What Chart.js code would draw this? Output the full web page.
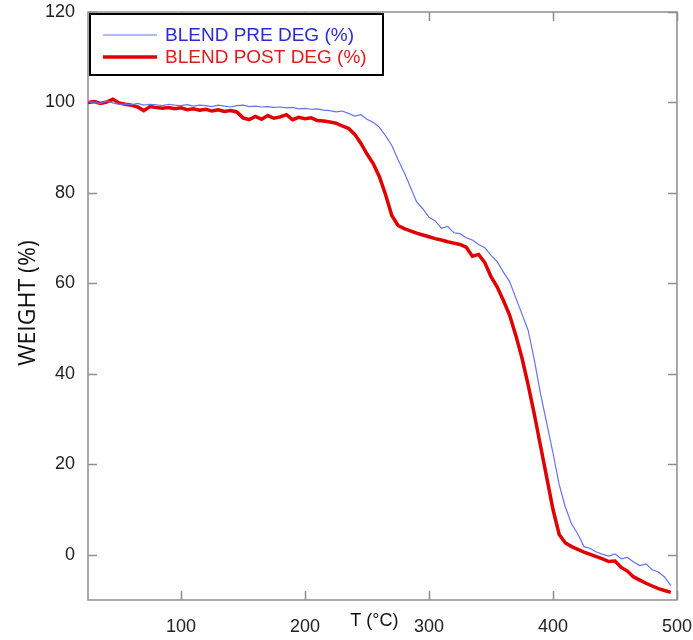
<!DOCTYPE html>
<html>
<head>
<meta charset="utf-8">
<script src="https://cdn.jsdelivr.net/npm/chart.js@4/dist/chart.umd.min.js"></script>
<style>
  html, body { margin: 0; padding: 0; background: #fff; }
  #wrap { width: 693px; height: 640px; }
</style>
</head>
<body>
<div id="wrap"><canvas id="tga"></canvas></div>
<script>
// temperature (°C)
const temps = [25, 30, 35, 40, 45, 50, 55, 60, 65, 70, 75, 80, 85, 90, 95,
  100, 105, 110, 115, 120, 125, 130, 135, 140, 145, 150, 155, 160, 165, 170, 175,
  180, 185, 190, 195, 200, 205, 210, 215, 220, 225, 230, 235, 240, 245, 250, 255,
  260, 265, 270, 275, 280, 285, 290, 295, 300, 305, 310, 315, 320, 325, 330, 335,
  340, 345, 350, 355, 360, 365, 370, 375, 380, 385, 390, 395, 400, 405, 410, 415,
  420, 425, 430, 435, 440, 445, 450, 455, 460, 465, 470, 475, 480, 485, 490, 495];

// weight (%) before degradation
const preDeg = [100.2, 100.0, 99.8, 100.3, 99.9, 99.6, 99.7, 99.5, 99.8, 99.4, 99.6, 99.5, 99.3, 99.6, 99.4,
  99.3, 99.5, 99.2, 99.4, 99.3, 99.1, 99.4, 99.2, 99.0, 99.3, 99.4, 99.1, 99.2, 99.0, 99.1, 98.9,
  99.0, 98.8, 98.9, 98.6, 98.7, 98.5, 98.6, 98.3, 98.2, 97.9, 98.1, 97.6, 97.0, 97.3, 96.3, 95.6,
  94.5, 92.6, 90.5, 87.4, 84.5, 81.3, 78.0, 76.5, 74.6, 73.8, 72.2, 72.6, 71.2, 71.0, 70.1, 69.6,
  68.6, 67.9, 66.2, 64.8, 62.5, 60.4, 56.8, 53.2, 49.6, 43.0, 35.5, 29.0, 22.5, 15.5, 10.5, 6.8,
  4.6, 1.8, 1.4, 0.6, 0.1, -0.3, 0.2, -0.9, -0.6, -1.6, -2.4, -2.0, -3.3, -3.8, -4.9, -6.8];

// weight (%) after degradation
const postDeg = [100.0, 100.2, 99.8, 100.1, 100.7, 99.9, 99.6, 99.4, 99.0, 98.2, 99.1, 98.9, 98.7, 98.9, 98.6,
  98.8, 98.4, 98.6, 98.3, 98.5, 98.1, 98.4, 98.0, 98.2, 97.9, 96.6, 96.2, 96.9, 96.3, 97.1, 96.5,
  96.8, 97.3, 96.2, 96.7, 96.4, 96.6, 96.0, 95.9, 95.7, 95.4, 94.8, 94.3, 93.0, 91.0, 88.6, 86.5,
  83.6, 79.6, 75.0, 72.8, 72.1, 71.6, 71.1, 70.7, 70.3, 69.9, 69.6, 69.2, 68.9, 68.6, 68.0, 66.0,
  66.4, 64.6, 61.5, 59.2, 56.2, 53.0, 48.5, 43.5, 37.5, 31.0, 24.0, 17.0, 10.0, 4.5, 2.6, 1.8,
  1.2, 0.6, 0.1, -0.4, -0.9, -1.5, -1.4, -2.8, -3.6, -4.9, -5.6, -6.3, -6.9, -7.5, -7.9, -8.3];

const xTicks = [100, 200, 300, 400, 500];
const yTicks = [0, 20, 40, 60, 80, 100, 120];

const FONT = '"Liberation Sans", Arial, sans-serif';

const toPoints = (ys) => temps.map((t, i) => ({ x: t, y: ys[i] }));

// frame with inward ticks on all four sides
const frame = {
  id: 'frame',
  beforeDatasetsDraw(chart) {
    const { ctx, chartArea: a, scales: { x, y } } = chart;
    ctx.save();
    ctx.strokeStyle = '#8e8e8e';
    ctx.lineWidth = 1.5;
    ctx.strokeRect(a.left, a.top, a.right - a.left, a.bottom - a.top);
    ctx.beginPath();
    x.ticks.forEach(t => {
      const px = Math.round(x.getPixelForValue(t.value)) + 0.5;
      ctx.moveTo(px, a.bottom); ctx.lineTo(px, a.bottom - 9);
      ctx.moveTo(px, a.top); ctx.lineTo(px, a.top + 9);
    });
    y.ticks.forEach(t => {
      const py = Math.round(y.getPixelForValue(t.value)) + 0.5;
      ctx.moveTo(a.left, py); ctx.lineTo(a.left + 9, py);
      ctx.moveTo(a.right, py); ctx.lineTo(a.right - 9, py);
    });
    ctx.stroke();
    ctx.restore();
  },
  afterDraw(chart) {
    const { ctx, chartArea: a, scales: { x } } = chart;
    ctx.save();
    // axis titles
    ctx.fillStyle = '#111';
    ctx.textAlign = 'center';
    ctx.textBaseline = 'middle';
    ctx.font = '18px ' + FONT;
    ctx.fillText('T (°C)', x.getPixelForValue(256), 621);
    ctx.translate(28, 303);
    ctx.rotate(-Math.PI / 2);
    ctx.font = '23px "Open Sans", ' + FONT;
    ctx.fillText('WEIGHT (%)', 0, 0);
    ctx.restore();

    // legend box
    ctx.save();
    ctx.strokeStyle = '#000';
    ctx.lineWidth = 2;
    ctx.fillStyle = '#fff';
    ctx.fillRect(a.left + 2, a.top + 2, 293, 61);
    ctx.strokeRect(a.left + 2, a.top + 2, 293, 61);
    ctx.font = '19px ' + FONT;
    ctx.textAlign = 'left';
    ctx.textBaseline = 'middle';
    const textCol = ['#2b2bd6', '#e01c1c'];
    chart.data.datasets.forEach((ds, i) => {
      const ly = a.top + 23 + i * 22;
      ctx.beginPath();
      ctx.strokeStyle = ds.borderColor;
      ctx.lineWidth = ds.borderWidth;
      ctx.moveTo(a.left + 15, ly);
      ctx.lineTo(a.left + 69, ly);
      ctx.stroke();
      ctx.fillStyle = textCol[i];
      ctx.fillText(ds.label, a.left + 77, ly + 1);
    });
    ctx.restore();
  }
};

new Chart(document.getElementById('tga'), {
  type: 'line',
  data: {
    datasets: [
      {
        label: 'BLEND PRE DEG (%)',
        data: toPoints(preDeg),
        borderColor: '#6474ee',
        borderWidth: 1.2,
        pointRadius: 0,
        tension: 0,
        fill: false
      },
      {
        label: 'BLEND POST DEG (%)',
        data: toPoints(postDeg),
        borderColor: '#e00000',
        borderWidth: 3.5,
        pointRadius: 0,
        tension: 0,
        fill: false
      }
    ]
  },
  options: {
    responsive: true,
    maintainAspectRatio: false,
    animation: false,
    layout: { padding: 0 },
    plugins: { legend: { display: false }, tooltip: { enabled: false } },
    scales: {
      x: {
        type: 'linear',
        min: 25,
        max: 500,
        afterBuildTicks: (s) => { s.ticks = xTicks.map(v => ({ value: v })); },
        afterFit: (s) => { s.height = 40; s.paddingLeft = 0; s.paddingRight = 16; },
        grid: { display: false, drawTicks: false },
        border: { display: false },
        ticks: { padding: 16, color: '#222', font: { family: FONT, size: 18 }, maxRotation: 0 }
      },
      y: {
        min: -10,
        max: 120,
        afterBuildTicks: (s) => { s.ticks = yTicks.map(v => ({ value: v })); },
        afterFit: (s) => { s.width = 88; s.paddingTop = 12; s.paddingBottom = 0; },
        grid: { display: false, drawTicks: false },
        border: { display: false },
        ticks: { padding: 13, color: '#222', font: { family: FONT, size: 18 } }
      }
    }
  },
  plugins: [frame]
});
</script>
</body>
</html>
